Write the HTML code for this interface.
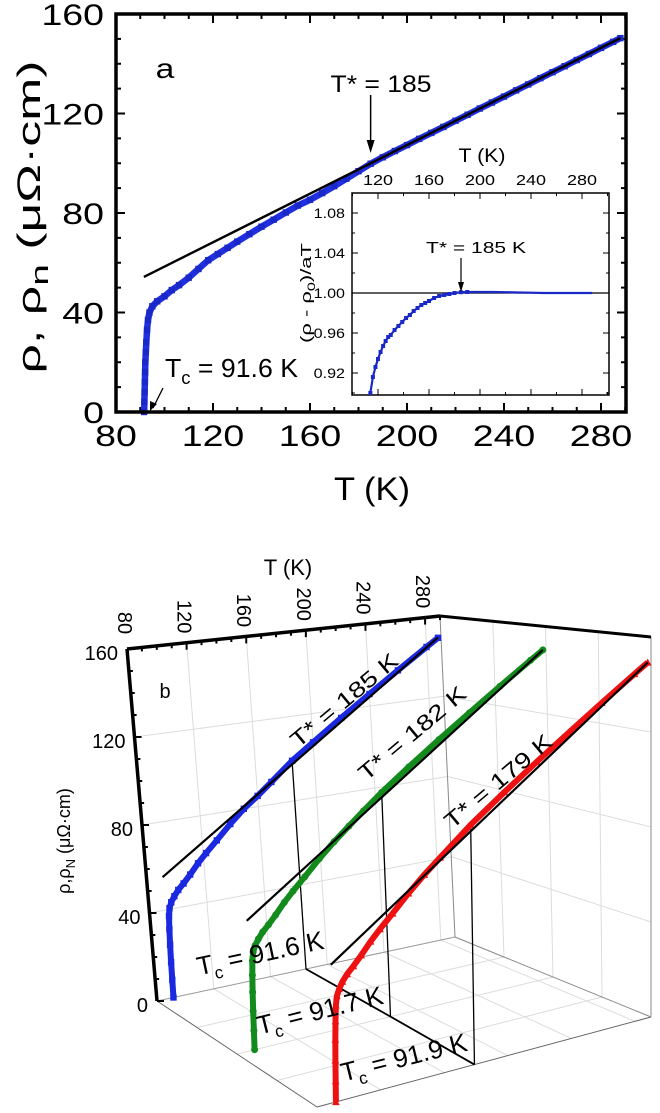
<!DOCTYPE html>
<html><head><meta charset="utf-8"><style>
html,body{margin:0;padding:0;background:#fff;}
svg{display:block;font-family:"Liberation Sans",Arial,sans-serif;}
</style></head><body>
<svg id="fig" width="660" height="1113" viewBox="0 0 660 1113" xmlns="http://www.w3.org/2000/svg">
<g id="pa"></g>
<g id="pb"></g>
<text transform="translate(165,78) scale(1.2,1)" font-size="28" text-anchor="middle">a</text>
<text x="381" y="92" font-size="24" text-anchor="middle" textLength="101" lengthAdjust="spacingAndGlyphs">T* = 185</text>
<text x="165" y="377" font-size="26" textLength="133" lengthAdjust="spacingAndGlyphs">T<tspan font-size="18" dy="7">c</tspan><tspan dy="-7"> = 91.6 K</tspan></text>
<text x="372" y="500" font-size="32" text-anchor="middle" textLength="76" lengthAdjust="spacingAndGlyphs">T (K)</text>
<text transform="translate(40,217) rotate(-90)" font-size="32" text-anchor="middle" textLength="313" lengthAdjust="spacingAndGlyphs">ρ, ρ<tspan font-size="24" dy="8">n</tspan><tspan dy="-8">  (μΩ·cm)</tspan></text>
<text x="482" y="162" font-size="19" text-anchor="middle" textLength="47" lengthAdjust="spacingAndGlyphs">T (K)</text>
<text transform="translate(311,293) rotate(-90)" font-size="15" text-anchor="middle" textLength="100" lengthAdjust="spacingAndGlyphs">(ρ - ρ<tspan font-size="11" dy="4">0</tspan><tspan dy="-4">)/aT</tspan></text>
<text x="476" y="253" font-size="16" text-anchor="middle" textLength="100" lengthAdjust="spacingAndGlyphs">T* = 185 K</text>
<text x="165" y="698" font-size="20" text-anchor="middle">b</text>
<text x="288" y="575" font-size="22" text-anchor="middle">T (K)</text>
<text transform="translate(70,841) rotate(-90)" font-size="18" text-anchor="middle">ρ,ρ<tspan font-size="13" dy="5">N</tspan><tspan dy="-5"> (μΩ·cm)</tspan></text>
<text transform="translate(349,706) rotate(-40)" font-size="22" text-anchor="middle" textLength="133" lengthAdjust="spacingAndGlyphs">T* = 185 K</text>
<text transform="translate(417,739) rotate(-40)" font-size="22" text-anchor="middle" textLength="133" lengthAdjust="spacingAndGlyphs">T* = 182 K</text>
<text transform="translate(503,787) rotate(-40)" font-size="22" text-anchor="middle" textLength="133" lengthAdjust="spacingAndGlyphs">T* = 179 K</text>
<text transform="translate(262,962) rotate(-12)" font-size="26" text-anchor="middle">T<tspan font-size="17" dy="7">c</tspan><tspan dy="-7"> = 91.6 K</tspan></text>
<text transform="translate(322,1019) rotate(-14)" font-size="26" text-anchor="middle">T<tspan font-size="17" dy="7">c</tspan><tspan dy="-7"> = 91.7 K</tspan></text>
<text transform="translate(406,1066) rotate(-14)" font-size="26" text-anchor="middle">T<tspan font-size="17" dy="7">c</tspan><tspan dy="-7"> = 91.9 K</tspan></text>
</svg>
<script>
const NS="http://www.w3.org/2000/svg";
const tempA=[91.6,91.7,91.8,91.9,92.0,92.1,92.3,92.5,92.8,93.2,93.8,95,97,100,103,106,110,114,118,122,126,130,135,140,145,150,155,160,165,170,175,180,185,190,195,200,205,210,215,220,225,230,235,240,245,250,255,260,265,270,275,280,285,288];
const rhoA=[0,4,8,12,16,20,24,28,33,37,40,42.5,44.5,46.5,49,51,54,57.5,61,63.5,66,68.5,71.5,74.5,77.3,80.2,83,85.3,88,90.8,93.8,96.8,99.8,102.4,104.9,107.3,109.8,112.2,114.6,117.1,119.5,122,124.4,126.8,129.3,131.7,134.2,136.6,139,141.5,143.9,146.4,148.8,150.3];
const fitTA=[91.5,288];
const fitRhoA=[54.3,150.3];
const xTicksA=[80,120,160,200,240,280];
const yTicksA=[0,40,80,120,160];
const tstarA=[185];
const insetT=[114,116,118,120,122,124,126,128,130,133,136,139,142,145,148,151,154,157,160,164,168,172,176,180,185,190,200,210,220,230,240,250,260,270,280,288];
const insetV=[0.9,0.916,0.926,0.934,0.941,0.947,0.952,0.956,0.958,0.963,0.967,0.971,0.975,0.978,0.982,0.985,0.988,0.99,0.992,0.995,0.997,0.998,0.999,1.0,1.0008,1.001,1.001,1.001,1.0008,1.0005,1.0003,1.0,1.0,1.0,1.0,1.0];
const insetXTicks=[120,160,200,240,280];
const insetYTicks=[0.92,0.96,1.00,1.04,1.08];
const tempBlue=[91.6,91.8,92,92.3,92.7,93.2,94,95.5,98,101,105,110,116,122,130,140,150,160,170,185,200,220,240,260,280,288];
const rhoBlue=[0,8,16,24,31,37,40.5,43,45.5,48,50.5,54,58.5,62.5,67.5,74,80,85,90.5,99,106.3,116.1,125.8,135.6,145.4,149.3];
const tempGreen=[91.7,91.9,92.1,92.4,92.8,93.3,94.1,95.6,98,101,105,110,116,122,130,140,150,160,170,182,200,220,240,260,280,288];
const rhoGreen=[0,8,16,24,31,37,40.5,43,45.5,48,50.5,54,58.5,62.5,67.5,74,80,85.5,91,97.5,106.5,116.3,126,135.8,145.6,149.5];
const tempRed=[91.9,92.1,92.3,92.6,93,93.5,94.3,95.8,98,101,105,110,116,122,130,140,150,160,170,179,200,220,240,260,280,288];
const rhoRed=[0,8,16,24,31,37,40.5,43,45.5,48,50.5,54,58.5,62.5,67.5,74,80,85.5,91,96,106.5,116.3,126,135.8,145.6,149.5];
const fitT=[91,288];
const fitRhoBlue=[55,149.5];
const fitRhoGreen=[54,149.5];
const fitRhoRed=[53,149.5];
const tstarB=[185,182,179];
const tstarRhoB=[99,97.5,96];
const depthB=[0,0.5,1];
const xTicksB=[80,120,160,200,240,280];
const yTicksB=[0,40,80,120,160];

const svg=document.getElementById('fig');
function mk(tag,attrs,parent){const e=document.createElementNS(NS,tag);for(const k in attrs)e.setAttribute(k,attrs[k]);parent.appendChild(e);return e;}
function nm(e,n){


}
const pa=document.getElementById('pa');
const xA=t=>116+(t-80)*2.425;
const yA=r=>412-r*2.4875;
for(let t=80;t<=290;t+=10){const L=(t-80)%40===0?9:5;
 const a=mk('line',{x1:xA(t),x2:xA(t),y1:412,y2:412-L,stroke:'#000','stroke-width':2},pa);nm(a,'x-tick-bottom');
 const b=mk('line',{x1:xA(t),x2:xA(t),y1:14,y2:14+L,stroke:'#000','stroke-width':2},pa);nm(b,'x-tick-top');}
for(let r=0;r<=160;r+=10){const L=r%40===0?9:5;
 const a=mk('line',{x1:116,x2:116+L,y1:yA(r),y2:yA(r),stroke:'#000','stroke-width':2},pa);nm(a,'y-tick-left');
 const b=mk('line',{x1:626,x2:626-L,y1:yA(r),y2:yA(r),stroke:'#000','stroke-width':2},pa);nm(b,'y-tick-right');}
xTicksA.forEach(t=>{const e=mk('text',{transform:`translate(${xA(t)},446) scale(1.25,1)`,'font-size':30,'text-anchor':'middle'},pa);e.textContent=t;nm(e,'x-tick-label-'+t);});
yTicksA.forEach(r=>{const e=mk('text',{transform:`translate(104,${yA(r)+11}) scale(1.25,1)`,'font-size':30,'text-anchor':'end'},pa);e.textContent=r;nm(e,'y-tick-label-'+r);});
let pts=tempA.map((t,i)=>xA(t)+','+yA(rhoA[i])).join(' ');
let pl=mk('polyline',{points:pts,fill:'none',stroke:'#2030e0','stroke-width':6.5,'stroke-linejoin':'round'},pa);nm(pl,'resistivity-curve-a');
tempA.forEach((t,i)=>{const s=mk('rect',{x:xA(t)-3.2,y:yA(rhoA[i])-3.2,width:6.4,height:6.4,fill:'#1a28c8'},pa);nm(s,'data-point-a');});
let fl=mk('line',{x1:xA(fitTA[0]),y1:yA(fitRhoA[0]),x2:xA(fitTA[1]),y2:yA(fitRhoA[1]),stroke:'#000','stroke-width':2.4},pa);nm(fl,'linear-fit-a');
let ar=mk('line',{x1:xA(tstarA[0]),y1:95,x2:xA(tstarA[0]),y2:150,stroke:'#000','stroke-width':1.5},pa);nm(ar,'tstar-arrow-a');
let ah=mk('path',{d:`M${xA(tstarA[0])-4},140 L${xA(tstarA[0])+4},140 L${xA(tstarA[0])},153 Z`,fill:'#000'},pa);nm(ah,'tstar-arrowhead-a');
let ta=mk('line',{x1:163,y1:388,x2:153,y2:408,stroke:'#000','stroke-width':1.3},pa);nm(ta,'tc-arrow-a');
let th=mk('path',{d:'M150,411 L150,401 L157,404 Z',fill:'#000'},pa);nm(th,'tc-arrowhead-a');
let fr=mk('rect',{x:116,y:14,width:510,height:398,fill:'none',stroke:'#000','stroke-width':3.5},pa);nm(fr,'plot-frame-a');
const xI=t=>352.5+(t-100)*1.275;
const yI=v=>393-(v-0.9)*1000;
let ib=mk('rect',{x:352,y:193,width:257,height:202,fill:'#fff',stroke:'#000','stroke-width':1.5},pa);nm(ib,'inset-frame');
for(let t=100;t<=300;t+=20){const L=(t%40===0)?6:3;
 const a=mk('line',{x1:xI(t),x2:xI(t),y1:193,y2:193+L,stroke:'#000','stroke-width':1},pa);nm(a,'inset-x-tick-top');
 const b=mk('line',{x1:xI(t),x2:xI(t),y1:395,y2:395-L,stroke:'#000','stroke-width':1},pa);nm(b,'inset-x-tick-bottom');}
for(let k=0;k<=10;k++){const v=0.9+k*0.02;const L=(k%2===1)?6:3;
 const a=mk('line',{x1:352,x2:352+L,y1:yI(v),y2:yI(v),stroke:'#000','stroke-width':1},pa);nm(a,'inset-y-tick-left');
 const b=mk('line',{x1:609,x2:609-L,y1:yI(v),y2:yI(v),stroke:'#000','stroke-width':1},pa);nm(b,'inset-y-tick-right');}
insetXTicks.forEach(t=>{const e=mk('text',{transform:`translate(${xI(t)},185) scale(1.2,1)`,'font-size':15,'text-anchor':'middle'},pa);e.textContent=t;nm(e,'inset-x-tick-label-'+t);});
insetYTicks.forEach(v=>{const e=mk('text',{transform:`translate(345,${yI(v)+5}) scale(1.15,1)`,'font-size':14,'text-anchor':'end'},pa);e.textContent=v.toFixed(2);nm(e,'inset-y-tick-label');});
let hl=mk('line',{x1:352,x2:609,y1:yI(1),y2:yI(1),stroke:'#000','stroke-width':1.2},pa);nm(hl,'inset-reference-line');
let ipl=mk('polyline',{points:insetT.map((t,i)=>xI(t)+','+yI(insetV[i])).join(' '),fill:'none',stroke:'#1a28c8','stroke-width':2.2},pa);nm(ipl,'inset-curve');
insetT.forEach((t,i)=>{if(t<=190){const s=mk('rect',{x:xI(t)-2,y:yI(insetV[i])-2,width:4,height:4,fill:'#1a28c8'},pa);nm(s,'inset-data-point');}});
let ia=mk('line',{x1:461,y1:258,x2:461,y2:288,stroke:'#000','stroke-width':1.2},pa);nm(ia,'inset-tstar-arrow');
let iah=mk('path',{d:'M458,282 L464,282 L461,292 Z',fill:'#000'},pa);nm(iah,'inset-tstar-arrowhead');

const pb=document.getElementById('pb');
const C={'000':[157,1001],'100':[455,937],'010':[127,649],'110':[440,616],'001':[317,1107],'101':[651,1017],'011':[305,690],'111':[651,637]};
function P(T,rho,d){const t=(T-80)/210,r=rho/160;const out=[0,0];
 for(const a of [0,1])for(const b of [0,1])for(const c of [0,1]){const w=(a?t:1-t)*(b?r:1-r)*(c?d:1-d);const p=C[''+a+b+c];out[0]+=w*p[0];out[1]+=w*p[1];}
 return out;}
function L3(p,q,st,sw,n){const a=P(...p),b=P(...q);const e=mk('line',{x1:a[0],y1:a[1],x2:b[0],y2:b[1],stroke:st,'stroke-width':sw},pb);nm(e,n);return e;}
const G='#dcdcdc';
for(const t of [120,160,200,240,280]){L3([t,0,0],[t,160,0],G,1,'grid-back-vertical');L3([t,0,0],[t,0,1],G,1,'grid-floor-depth');}
for(const r of [40,80,120]){L3([80,r,0],[290,r,0],G,1,'grid-back-horizontal');L3([290,r,0],[290,r,1],G,1,'grid-side-horizontal');}
for(const d of [0.25,0.5,0.75]){L3([80,0,d],[290,0,d],G,1,'grid-floor-temp');L3([290,0,d],[290,160,d],G,1,'grid-side-vertical');}
L3([290,0,0],[290,160,0],'#888',1,'box-edge');
L3([290,0,1],[290,160,1],'#888',1,'box-edge');
L3([80,0,1],[290,0,1],'#666',1,'box-edge');
L3([290,0,0],[290,0,1],'#888',1,'box-edge');
L3([80,0,0],[80,0,1],'#666',1,'box-edge');
L3([80,0,0],[290,0,0],'#999',1,'box-edge');
L3([80,160,0],[290,160,0],'#000',3.5,'top-temperature-axis');
L3([80,0,0],[80,160,0],'#000',3.5,'left-resistivity-axis');
L3([290,160,0],[290,160,1],'#000',3,'top-depth-edge');
for(let t=80;t<=290;t+=10){const a=P(t,160,0);const l=(t-80)%40===0?7:4;const e=mk('line',{x1:a[0],y1:a[1],x2:a[0],y2:a[1]+l,stroke:'#000','stroke-width':2},pb);nm(e,'top-axis-tick');}
for(let r=0;r<=160;r+=10){const a=P(80,r,0);const l=r%40===0?7:4;const e=mk('line',{x1:a[0],y1:a[1],x2:a[0]+l,y2:a[1],stroke:'#000','stroke-width':2},pb);nm(e,'left-axis-tick');}
xTicksB.forEach(t=>{const a=P(t,160,0);const e=mk('text',{transform:`translate(${a[0]-3},${a[1]-26}) rotate(90)`,'font-size':20,'text-anchor':'middle','dominant-baseline':'central'},pb);e.textContent=t;nm(e,'top-tick-label-'+t);});
yTicksB.forEach(r=>{const a=P(80,r,0);const e=mk('text',{x:a[0]-9,y:a[1]+11,'font-size':20,'text-anchor':'end'},pb);e.textContent=r;nm(e,'left-tick-label-'+r);});
const feet=[];
tstarB.forEach((t,i)=>{L3([t,tstarRhoB[i],depthB[i]],[t,0,depthB[i]],'#000',1.3,'tstar-drop-line');feet.push(P(t,0,depthB[i]).join(','));});
let fp=mk('polyline',{points:feet.join(' '),fill:'none',stroke:'#000','stroke-width':1.8},pb);nm(fp,'tstar-floor-line');
function series(T,R,d,color,marker,name){
 const pts=T.map((t,i)=>P(t,R[i],d));
 const pl=mk('polyline',{points:pts.map(p=>p.join(',')).join(' '),fill:'none',stroke:color,'stroke-width':6,'stroke-linejoin':'round'},pb);nm(pl,name+'-curve');
 pts.forEach(p=>{let m;
  if(marker==='sq')m=mk('rect',{x:p[0]-3.2,y:p[1]-3.2,width:6.4,height:6.4,fill:color},pb);
  else if(marker==='ci')m=mk('circle',{cx:p[0],cy:p[1],r:3.5,fill:color},pb);
  else m=mk('path',{d:`M${p[0]-3.8},${p[1]+3.2} L${p[0]+3.8},${p[1]+3.2} L${p[0]},${p[1]-4} Z`,fill:color},pb);
  nm(m,name+'-point');});
}
series(tempBlue,rhoBlue,depthB[0],'#1a28e0','sq','blue-sample');
series(tempGreen,rhoGreen,depthB[1],'#138a1c','ci','green-sample');
series(tempRed,rhoRed,depthB[2],'#ee1111','tr','red-sample');
L3([fitT[0],fitRhoBlue[0],depthB[0]],[fitT[1],fitRhoBlue[1],depthB[0]],'#000',2.2,'fit-line-blue');
L3([fitT[0],fitRhoGreen[0],depthB[1]],[fitT[1],fitRhoGreen[1],depthB[1]],'#000',2.2,'fit-line-green');
L3([fitT[0],fitRhoRed[0],depthB[2]],[fitT[1],fitRhoRed[1],depthB[2]],'#000',2.2,'fit-line-red');
Array.from(svg.querySelectorAll(':scope > text')).forEach(t=>svg.appendChild(t));
</script>
</body></html>
